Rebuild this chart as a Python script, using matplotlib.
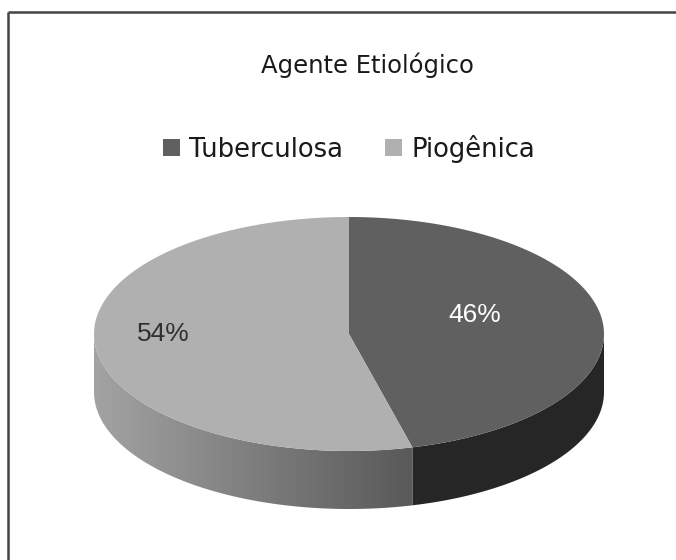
import numpy as np
import matplotlib.pyplot as plt
from matplotlib.patches import Polygon, Rectangle
from matplotlib.colors import LinearSegmentedColormap

title = 'Agente Etiológico'
labels = ['Tuberculosa', 'Piogênica']
values = [46, 54]
top_colors = ['#606060', '#b0b0b0']
side_colors = ['#262626', '#a3a3a3']
side_dark = '#595959'
pct_colors = ['white', '#303030']

# pie geometry in pixels
cx, cy = 349, 334
rx, ry = 255, 117
depth = 58


def ell(a):
    return cx + rx * np.cos(a), cy - ry * np.sin(a)


fig = plt.figure(figsize=(6.76, 5.6), dpi=100)
ax = fig.add_axes([0, 0, 1, 1])
ax.axis('off')

fr = np.array(values) / sum(values)
edges = np.pi / 2 - 2 * np.pi * np.concatenate([[0], np.cumsum(fr)])

# sides (only front half visible)
for i in range(len(values)):
    hi, lo = edges[i], edges[i + 1]
    lo2, hi2 = max(lo, -np.pi), min(hi, 0)
    if lo2 >= hi2:
        continue
    t = np.linspace(lo2, hi2, 200)
    x, y = ell(t)
    pts = np.column_stack([np.concatenate([x, x[::-1]]),
                           np.concatenate([y, y[::-1] + depth])])
    if i == 0:
        ax.add_patch(Polygon(pts, closed=True, facecolor=side_colors[i],
                             edgecolor='none', zorder=1))
    else:
        clip = Polygon(pts, closed=True, facecolor='none', edgecolor='none')
        ax.add_patch(clip)
        cmap = LinearSegmentedColormap.from_list('side', [side_colors[i], side_dark])
        grad = np.linspace(0, 1, 256).reshape(1, -1)
        im = ax.imshow(grad, extent=[x.min(), x.max(), y.max() + depth, y.min()],
                       cmap=cmap, aspect='auto', zorder=1, interpolation='bilinear')
        im.set_clip_path(clip)

# top faces
for i in range(len(values)):
    t = np.linspace(edges[i], edges[i + 1], 300)
    x, y = ell(t)
    pts = np.column_stack([np.concatenate([[cx], x]), np.concatenate([[cy], y])])
    ax.add_patch(Polygon(pts, closed=True, facecolor=top_colors[i],
                         edgecolor='none', zorder=2))

# percent labels
pct_pos = [(475, 322), (163, 341)]
for i in range(len(values)):
    ax.text(pct_pos[i][0], pct_pos[i][1], '%d%%' % values[i], color=pct_colors[i],
            fontsize=19, family='Liberation Sans', ha='center', va='baseline', zorder=3)

# title and legend
ax.text(367, 73, title, fontsize=17.5, color='#1a1a1a', ha='center', va='baseline')
leg_x = [163, 385]
leg_fs = 18.6
for i in range(len(labels)):
    ax.add_patch(Rectangle((leg_x[i], 139), 17, 17, facecolor=top_colors[i],
                           edgecolor='none'))
    ax.text(leg_x[i] + 26, 157, labels[i], fontsize=leg_fs, color='#1a1a1a',
            ha='left', va='baseline')

# frame (top and left edges visible)
ax.plot([8, 676], [12, 12], color='#444444', lw=1.8, solid_capstyle='butt')
ax.plot([8, 8], [12, 560], color='#444444', lw=1.8, solid_capstyle='butt')

ax.set_xlim(0, 676)
ax.set_ylim(560, 0)
fig.savefig('out.png', dpi=100)
